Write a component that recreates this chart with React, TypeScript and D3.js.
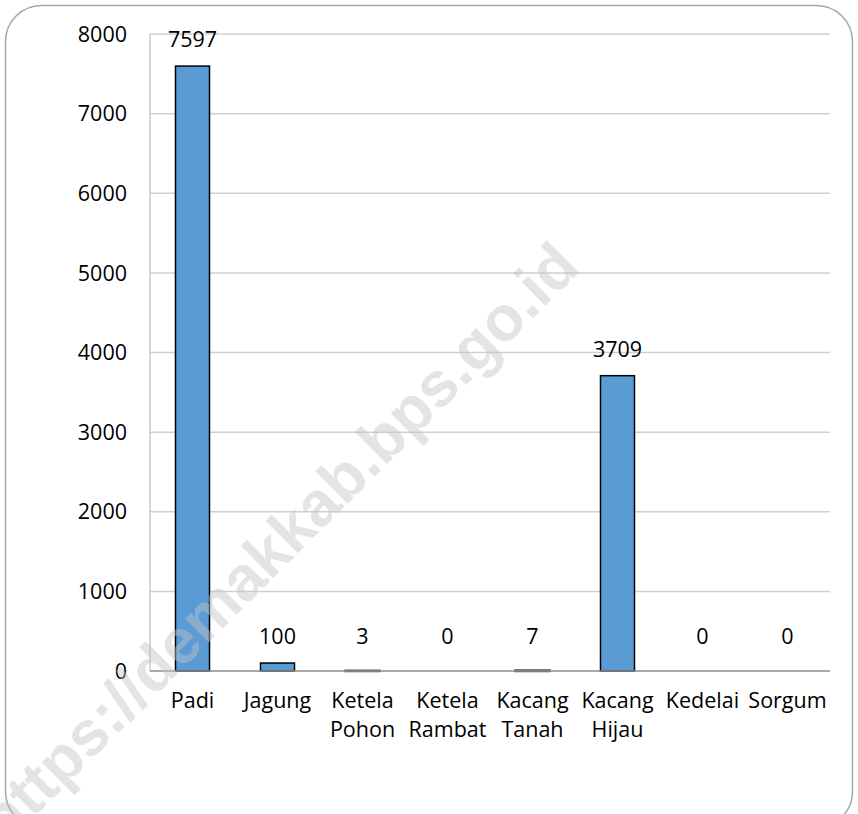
import * as d3 from "d3";
import React, { useEffect, useRef } from "react";

const categories = [
  "Padi",
  "Jagung",
  "Ketela Pohon",
  "Ketela Rambat",
  "Kacang Tanah",
  "Kacang Hijau",
  "Kedelai",
  "Sorgum",
];
const values = [7597, 100, 3, 0, 7, 3709, 0, 0];
const yTicks = [0, 1000, 2000, 3000, 4000, 5000, 6000, 7000, 8000];
const watermark = "https://demakkab.bps.go.id";

const App: React.FC = () => {
  const svgRef = useRef<SVGSVGElement | null>(null);

  useEffect(() => {
    if (!svgRef.current) return;
    const width = 858;
    const height = 814;
    const margin = { top: 34, right: 28, bottom: 143, left: 150 };
    const font = "'Open Sans', sans-serif";
    const fs = 21.5;

    const svg = d3.select(svgRef.current);
    svg.selectAll("*").remove();
    svg.attr("width", width).attr("height", height).style("font-family", font);

    svg
      .append("rect")
      .attr("x", 5.5)
      .attr("y", 5.5)
      .attr("width", 847)
      .attr("height", 822)
      .attr("rx", 36)
      .attr("fill", "#fff")
      .attr("stroke", "#a6a6a6")
      .attr("stroke-width", 1.5);

    const x = d3
      .scaleBand()
      .domain(categories)
      .range([margin.left, width - margin.right])
      .paddingInner(0.6)
      .paddingOuter(0.3);

    const y = d3
      .scaleLinear()
      .domain([0, 8000])
      .range([height - margin.bottom, margin.top]);

    // gridlines
    svg
      .append("g")
      .selectAll("line")
      .data(yTicks.slice(1))
      .join("line")
      .attr("x1", margin.left)
      .attr("x2", width - margin.right)
      .attr("y1", (d) => y(d))
      .attr("y2", (d) => y(d))
      .attr("stroke", "#cfcfcf")
      .attr("stroke-width", 1.5);

    // axis lines
    svg
      .append("line")
      .attr("x1", margin.left)
      .attr("x2", margin.left)
      .attr("y1", y(8000))
      .attr("y2", y(0))
      .attr("stroke", "#c8c8c8")
      .attr("stroke-width", 1.5);

    // tick labels
    svg
      .append("g")
      .selectAll("text")
      .data(yTicks)
      .join("text")
      .attr("x", margin.left - 23)
      .attr("y", (d) => y(d))
      .attr("dy", "0.36em")
      .attr("text-anchor", "end")
      .attr("font-size", fs)
      .attr("fill", "#000")
      .text((d) => d);

    // bars
    const data = categories.map((c, i) => ({ c, v: values[i] }));
    svg
      .append("g")
      .selectAll("rect")
      .data(data.filter((d) => d.v > 0))
      .join("rect")
      .attr("x", (d) => x(d.c)!)
      .attr("width", x.bandwidth())
      .attr("y", (d) => y(d.v))
      .attr("height", (d) => y(0) - y(d.v))
      .attr("fill", "#5b9bd5")
      .attr("stroke", (d) => (d.v < 50 ? "#5a5a5a" : "#000"))
      .attr("stroke-width", (d) => (d.v < 50 ? 2.5 : 1.5));

    svg
      .append("line")
      .attr("x1", margin.left)
      .attr("x2", width - margin.right)
      .attr("y1", y(0))
      .attr("y2", y(0))
      .attr("stroke", "#8c8c8c")
      .attr("stroke-width", 1.5);

    // value labels
    svg
      .append("g")
      .selectAll("text")
      .data(data)
      .join("text")
      .attr("x", (d) => x(d.c)! + x.bandwidth() / 2)
      .attr("y", (d) => Math.min(y(d.v) - 19, y(0) - 27))
      .attr("text-anchor", "middle")
      .attr("font-size", fs)
      .attr("fill", "#000")
      .text((d) => d.v);

    // category labels
    svg
      .append("g")
      .selectAll("text")
      .data(categories)
      .join("text")
      .attr("x", (d) => x(d)! + x.bandwidth() / 2)
      .attr("y", y(0) + 37)
      .attr("text-anchor", "middle")
      .attr("font-size", fs)
      .attr("fill", "#000")
      .each(function (d) {
        const t = d3.select(this);
        d.split(" ").forEach((w, i) => {
          t.append("tspan")
            .attr("x", x(d)! + x.bandwidth() / 2)
            .attr("dy", i === 0 ? 0 : 29)
            .text(w);
        });
      });

    // watermark
    svg
      .append("text")
      .attr("transform", "translate(278,542) rotate(-45)")
      .attr("text-anchor", "middle")
      .attr("dy", "0.35em")
      .attr("font-family", "'Liberation Sans', Arial, sans-serif")
      .attr("font-weight", "bold")
      .attr("font-size", 63)
      .attr("fill", "#c4c4c4")
      .attr("fill-opacity", 0.45)
      .text(watermark);
  }, []);

  return (
    <div style={{ position: "absolute", left: 0, top: 0 }}>
      <svg ref={svgRef}></svg>
    </div>
  );
};

export default App;
